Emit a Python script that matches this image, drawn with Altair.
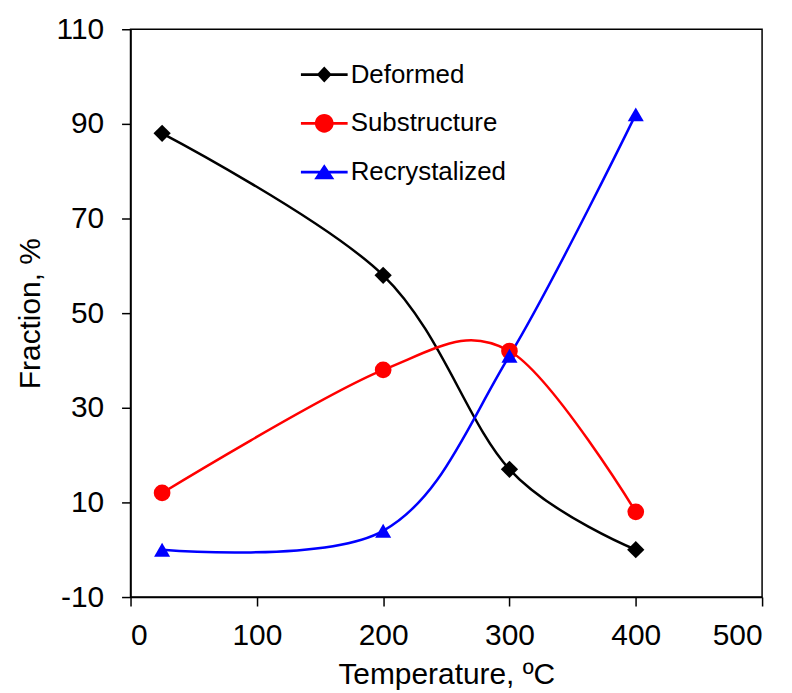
import altair as alt
import pandas as pd

temps = [25, 200, 300, 400]
deformed = [88, 58, 17, 0]
substructure = [12, 38, 42, 8]
recrystalized = [0, 4, 41, 92]
series_names = ["Deformed", "Substructure", "Recrystalized"]
series_colors = ["#000000", "#ff0000", "#0000ff"]
x_ticks = [0, 100, 200, 300, 400, 500]
y_ticks = [-10, 10, 30, 50, 70, 90, 110]

rows = []
for name, vals in zip(series_names, [deformed, substructure, recrystalized]):
    for t, v in zip(temps, vals):
        rows.append({"series": name, "temp": t, "frac": v})
df = pd.DataFrame(rows)

FONT = "Liberation Sans"

x_enc = alt.X("temp:Q", scale=alt.Scale(domain=[0, 500], nice=False),
              axis=alt.Axis(values=x_ticks, title="Temperature, ºC", grid=False,
                            tickSize=9, labelPadding=15, titleBaseline="alphabetic",
                            titleY=87))
y_enc = alt.Y("frac:Q", scale=alt.Scale(domain=[-10, 110], nice=False),
              axis=alt.Axis(values=y_ticks, title="Fraction, %", grid=False,
                            tickSize=9, labelPadding=18, titleBaseline="alphabetic",
                            titleX=-91, titleAngle=-90,
                            labelExpr="datum.value < 0 ? '-' + abs(datum.value) : '' + datum.value"))

color_sc = alt.Scale(domain=series_names, range=series_colors)

lines = alt.Chart(df).mark_line(interpolate="cardinal", strokeWidth=2.5).encode(
    x=x_enc, y=y_enc,
    color=alt.Color("series:N", scale=color_sc, legend=None),
    detail="series:N",
)

points = alt.Chart(df).mark_point(filled=True, opacity=1).encode(
    x=x_enc, y=y_enc,
    color=alt.Color("series:N", scale=color_sc, legend=None),
    shape=alt.Shape("series:N", scale=alt.Scale(domain=series_names,
                    range=["diamond", "circle", "triangle-up"]), legend=None),
    size=alt.Size("series:N", scale=alt.Scale(domain=series_names,
                  range=[300, 260, 300]), legend=None),
)

LINE = "M-1,-0.06L1,-0.06L1,0.06L-1,0.06Z"
leg_paths = [
    LINE + "M0,-0.34L0.32,0L0,0.34L-0.32,0Z",
    LINE + "M-0.4,0A0.4,0.4,0,1,1,0.4,0A0.4,0.4,0,1,1,-0.4,0Z",
    LINE + "M0,-0.34L0.43,0.3L-0.43,0.3Z",
]

leg = alt.Legend(title=None, orient="none", legendX=171, legendY=22,
                 symbolSize=2200, symbolStrokeWidth=0,
                 labelFont=FONT, labelFontSize=26, labelColor="#000000",
                 labelOffset=3, rowPadding=12, padding=0)

legend_layer = alt.Chart(df).transform_filter("false").mark_point(filled=True, opacity=1).encode(
    x="temp:Q", y="frac:Q",
    color=alt.Color("series:N", scale=color_sc, legend=leg),
    shape=alt.Shape("series:N", scale=alt.Scale(domain=series_names, range=leg_paths),
                    legend=leg),
)

chart = alt.layer(lines, points, legend_layer).resolve_scale(
    color="independent", shape="independent", size="independent"
).properties(
    width=634, height=570,
    padding={"left": 123, "top": 20, "right": 22, "bottom": 93},
    autosize=alt.AutoSizeParams(type="none"),
).configure_view(
    stroke="#000000", strokeWidth=1.5
).configure_axis(
    domainColor="#000000", domainWidth=1.5, tickColor="#000000", tickWidth=1.5,
    labelFont=FONT, labelFontSize=30, labelColor="#000000",
    titleFont=FONT, titleFontSize=30, titleColor="#000000", titleFontWeight="normal",
)

chart.save("out.html", embed_options={"renderer": "svg", "actions": False})
